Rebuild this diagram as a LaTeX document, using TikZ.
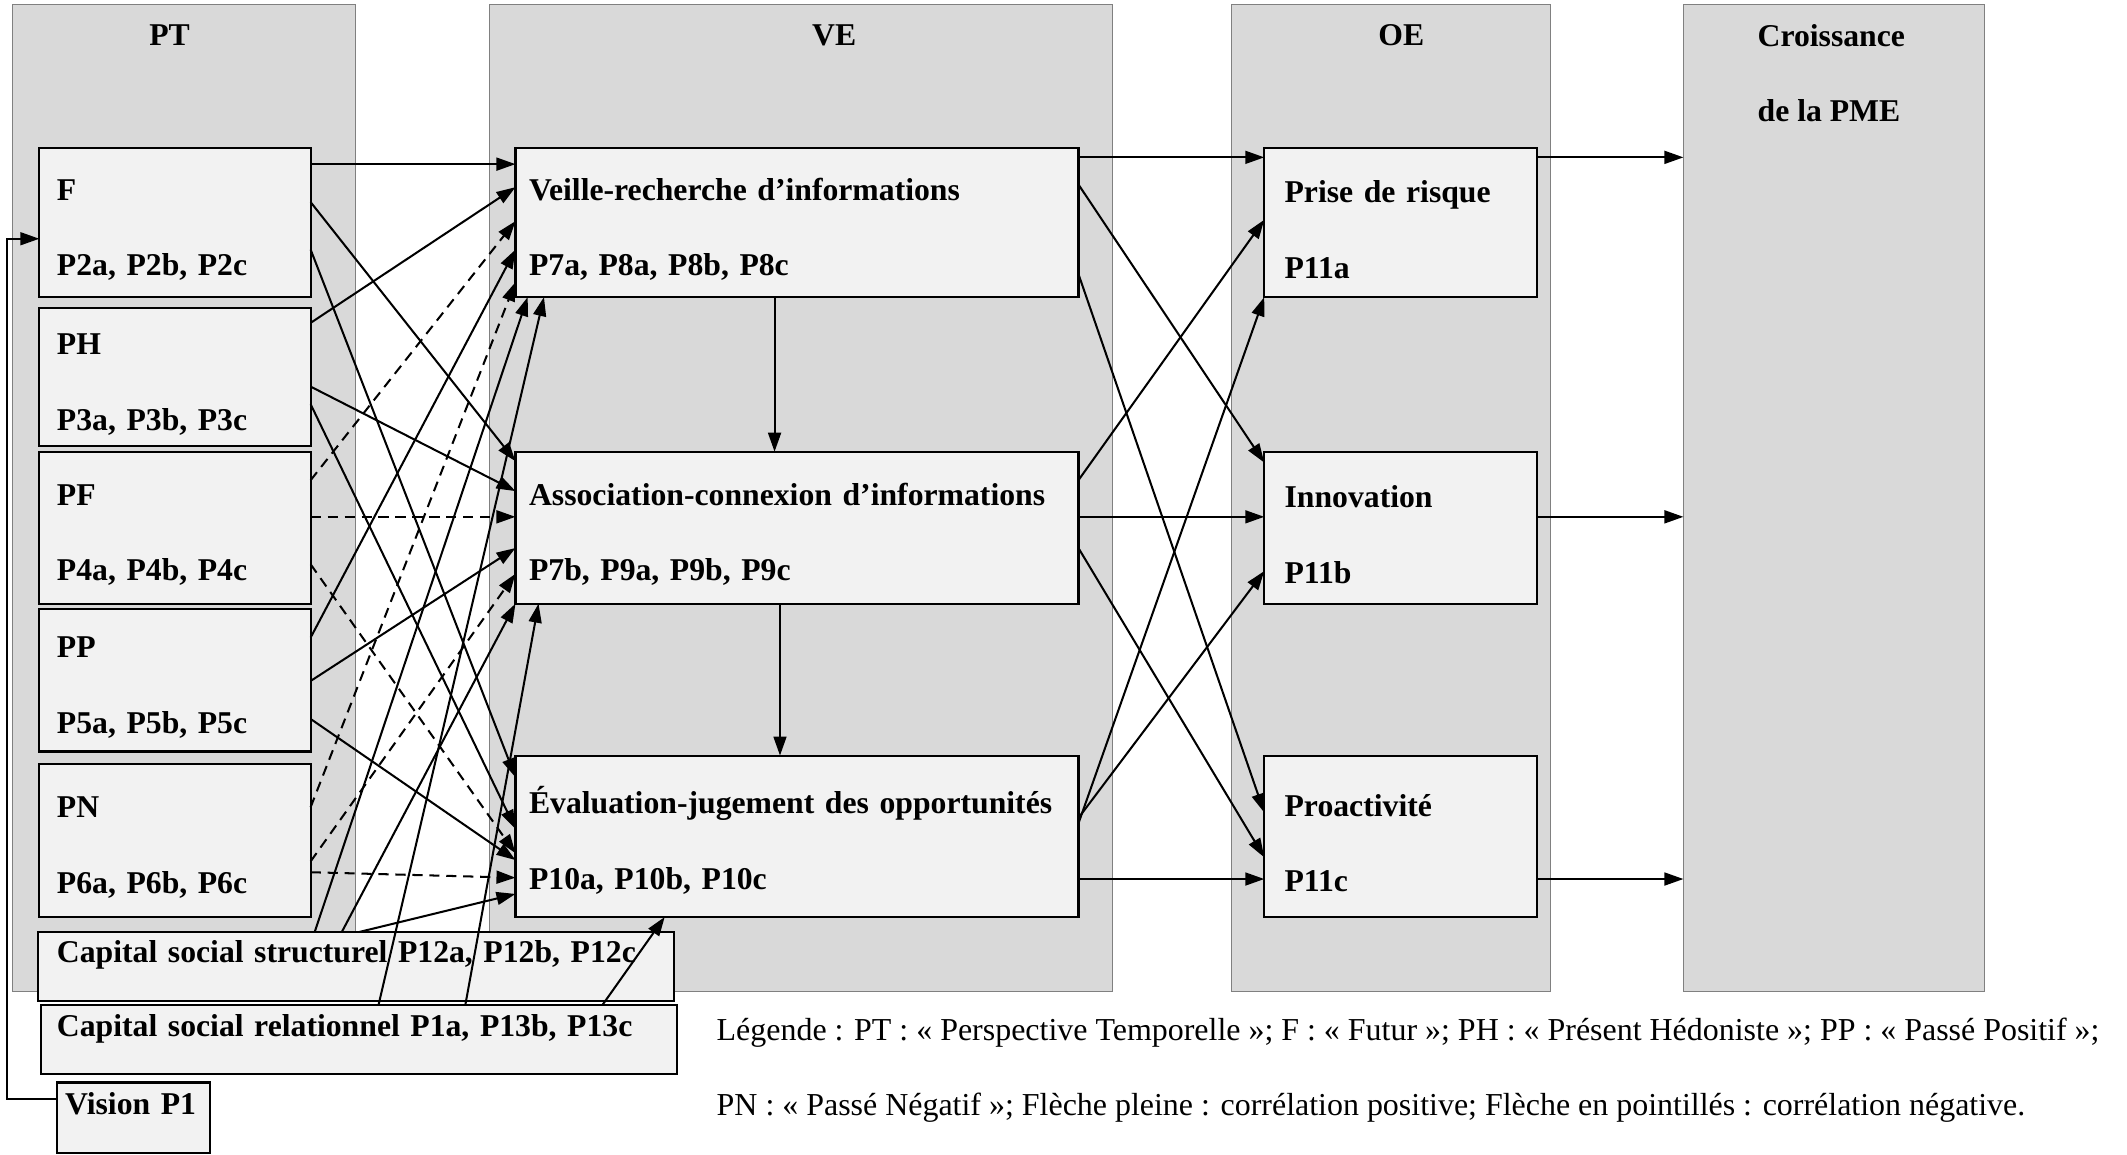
\documentclass[tikz,border=0pt]{standalone}
\usepackage{fontspec}
\setmainfont{Liberation Serif}
\usetikzlibrary{calc,arrows.meta}
\definecolor{colfond}{HTML}{D9D9D9}
\definecolor{boitefond}{HTML}{F2F2F2}
\newcommand{\fleche}[5]{\draw[#1] ($(#2.north east)+(0,#3)$) -- ($(#4.north west)+(0,#5)$);}
\tikzset{colonne/.style={draw=gray,line width=0.4pt,fill=colfond,anchor=north west,inner sep=0pt,outer sep=0pt,minimum height=145.6mm},
  boite/.style={draw,line width=0.9pt,fill=boitefond,anchor=north west,inner ysep=0pt,outer sep=0pt,align=left,text height=15pt,font=\bfseries\fontsize{13.3}{31.75}\selectfont},
  bPT/.style={boite,minimum width=40mm,inner xsep=2.6mm,text width=34.8mm},
  bVE/.style={boite,minimum width=83mm,inner xsep=2mm,text width=79mm},
  bOE/.style={boite,minimum width=40.2mm,inner xsep=3mm,text width=34.2mm},
  ligne/.style={boite,minimum height=10.2mm,text height=9pt,text depth=12pt},
  titre/.style={font=\bfseries\fontsize{13.3}{31.75}\selectfont},
  legende/.style={anchor=base west,inner xsep=0pt,font=\fontsize{13.4}{16}\selectfont},
  fl/.style={-{Triangle[length=2.8mm,width=1.9mm]},line width=0.85pt},
  pointille/.style={fl,dash pattern=on 1.5mm off 1mm}}
\begin{document}
\begin{tikzpicture}[x=0.2mm,y=-0.2mm]
\useasboundingbox (0,0) rectangle (1568,851);
\node[colonne,minimum width=50.6mm] (cPT) at (9,3) {}; \node[colonne,minimum width=91.8mm] (cVE) at (361,3) {};
\node[colonne,minimum width=47mm] (cOE) at (908,3) {}; \node[colonne,minimum width=44.4mm] (cCR) at (1241,3) {};
\node[titre] (tPT) at (125,26) {PT}; \node[titre] (tVE) at (615,26) {VE}; \node[titre] (tOE) at (1033,26) {OE};
\node[titre,align=left] (tCR) at (1350,54) {Croissance\\de la PME};

\node[bPT,minimum height=22mm] (F) at (29,109) {F\\P2a, P2b, P2c};
\node[bPT,minimum height=20.4mm] (PH) at (29,227) {PH\\P3a, P3b, P3c};
\node[bPT,minimum height=22.4mm] (PF) at (29,333) {PF\\P4a, P4b, P4c};
\node[bPT,minimum height=21mm] (PP) at (29,449) {PP\\P5a, P5b, P5c};
\node[bPT,minimum height=22.6mm] (PN) at (29,563) {PN\\P6a, P6b, P6c};
\node[bVE,minimum height=22mm] (VR) at (380,109) {Veille-recherche d’informations\\P7a, P8a, P8b, P8c};
\node[bVE,minimum height=22.4mm] (AC) at (380,333) {Association-connexion d’informations\\P7b, P9a, P9b, P9c};
\node[bVE,minimum height=23.8mm] (EV) at (380,557) {Évaluation-jugement des opportunités\\P10a, P10b, P10c};
\node[bOE,minimum height=22mm] (PR) at (932,109) {Prise de risque\\P11a};
\node[bOE,minimum height=22.4mm] (IN) at (932,333) {Innovation\\P11b};
\node[bOE,minimum height=23.8mm] (PA) at (932,557) {Proactivité\\P11c};
\node[ligne,minimum width=93.8mm,inner xsep=2.8mm,text width=88.2mm] (CSS) at (28,687) {Capital social structurel P12a, P12b, P12c};
\node[ligne,minimum width=93.8mm,inner xsep=2.4mm,text width=89mm] (CSR) at (30,741) {Capital social relationnel P1a, P13b, P13c};
\node[ligne,minimum width=22.6mm,minimum height=10.4mm,inner xsep=1.2mm,text width=20.2mm] (VI) at (42,798) {Vision P1};

\fleche{fl}{F}{12}{VR}{12} \fleche{fl}{F}{40}{AC}{7} \fleche{fl}{F}{75}{EV}{16}
\fleche{fl}{PH}{11}{VR}{29} \fleche{fl}{PH}{58}{AC}{29} \fleche{fl}{PH}{71}{EV}{54}
\fleche{pointille}{PF}{21}{VR}{54} \fleche{pointille}{PF}{48}{AC}{48} \fleche{pointille}{PF}{83}{EV}{72}
\fleche{fl}{PP}{21}{VR}{75} \fleche{fl}{PP}{53}{AC}{71} \fleche{fl}{PP}{81}{EV}{77}
\fleche{pointille}{PN}{32}{VR}{99} \fleche{pointille}{PN}{72}{AC}{90} \fleche{pointille}{PN}{80}{EV}{90}
\draw[fl] ($(CSS.north west)+(204,0)$) -- ($(VR.south west)+(9,0)$);
\draw[fl] ($(CSS.north west)+(224,0)$) -- (AC.south west);
\draw[fl] ($(CSS.north west)+(237,0)$) -- ($(EV.north west)+(0,102)$);
\draw[fl] ($(CSR.north west)+(249,0)$) -- ($(VR.south west)+(21,0)$);
\draw[fl] ($(CSR.north west)+(313,0)$) -- ($(AC.south west)+(17,0)$);
\draw[fl] ($(CSR.north west)+(414,0)$) -- ($(EV.south west)+(110,0)$);
\draw[fl] ($(VR.south west)+(191,0)$) -- ($(AC.north west)+(191,0)$);
\draw[fl] ($(AC.south west)+(195,0)$) -- ($(EV.north west)+(195,0)$);

\fleche{fl}{VR}{7}{PR}{7} \fleche{fl}{VR}{27}{IN}{8} \fleche{fl}{VR}{93}{PA}{42}
\fleche{fl}{AC}{21}{PR}{53} \fleche{fl}{AC}{48}{IN}{48} \fleche{fl}{AC}{71}{PA}{75}
\draw[fl] ($(EV.north east)+(0,50)$) -- (PR.south west);
\fleche{fl}{EV}{46}{IN}{88} \fleche{fl}{EV}{91}{PA}{91}
\fleche{fl}{PR}{7}{cCR}{113} \fleche{fl}{IN}{48}{cCR}{378} \fleche{fl}{PA}{91}{cCR}{645}

\coordinate (coin) at (5,176);
\draw[fl] ($(VI.north west)+(0,12)$) -| (coin) -- ($(F.north west)+(0,67)$);

\node[legende] (leg1) at (528,767) {Légende : PT : « Perspective Temporelle »; F : « Futur »; PH : « Présent Hédoniste »; PP : « Passé Positif »;};
\node[legende] (leg2) at (528,822) {PN : « Passé Négatif »; Flèche pleine : corrélation positive; Flèche en pointillés : corrélation négative.};
\end{tikzpicture}
\end{document}
